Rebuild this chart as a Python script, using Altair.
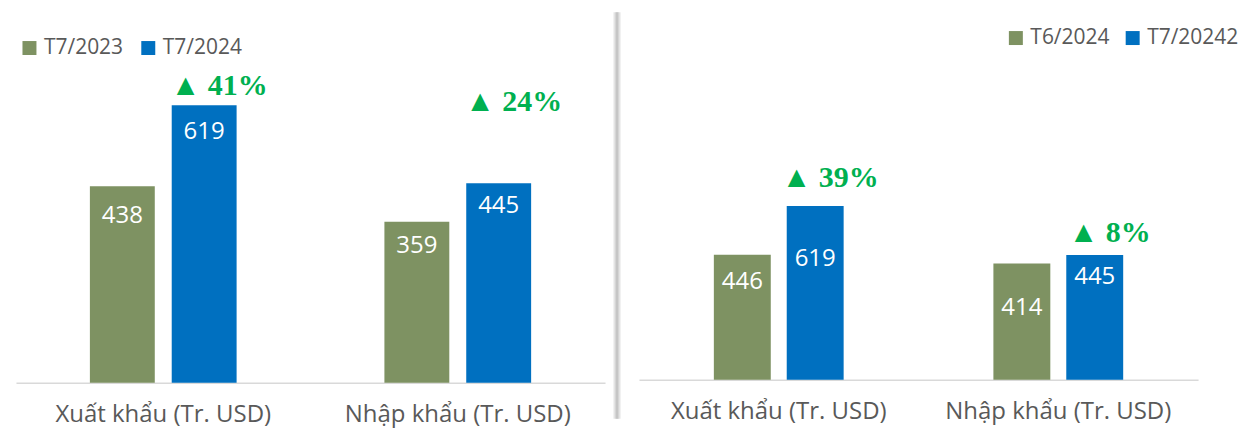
import altair as alt
import pandas as pd

# ---------------- data ----------------
CATEGORIES = ["Xuất khẩu (Tr. USD)", "Nhập khẩu (Tr. USD)"]

LEFT_SERIES = ["T7/2023", "T7/2024"]
LEFT_PREV = [438, 359]
LEFT_CURR = [619, 445]
LEFT_PCT = ["▲ 41%", "▲ 24%"]

RIGHT_SERIES = ["T6/2024", "T7/20242"]
RIGHT_PREV = [446, 414]
RIGHT_CURR = [619, 445]
RIGHT_PCT = ["▲ 39%", "▲ 8%"]

# ---------------- styling ----------------
GREEN = "#7E9262"
BLUE = "#0070C0"
PCT_GREEN = "#00B050"
GREY_TEXT = "#595959"
FONT = "Open Sans"

# per-label pixel offsets (label centre below bar top / above bar top)
LEFT_VALUE_DROP = [30, 27, 24, 23]
RIGHT_VALUE_DROP = [27, 53, 44, 22]
LEFT_PCT_RISE = [19, 81]
RIGHT_PCT_RISE = [28, 22]


def panel(series, prev, curr, pct, value_drop, pct_rise, width, height, ymax,
          x_pad, off_inner, legend_x, legend_y, col_pad, separator=False):
    rows = []
    for i, c in enumerate(CATEGORIES):
        rows.append({"cat": c, "series": series[0], "value": prev[i]})
        rows.append({"cat": c, "series": series[1], "value": curr[i]})
    df = pd.DataFrame(rows)
    per_px = ymax / height
    df["label_y"] = [v - d * per_px for v, d in zip(df["value"], value_drop)]

    pdf = pd.DataFrame({
        "cat": CATEGORIES,
        "series": [series[1]] * 2,
        "pct": pct,
        "pct_y": [v + r * per_px for v, r in zip(curr, pct_rise)],
    })

    x = alt.X("cat:N", sort=CATEGORIES,
              scale=alt.Scale(paddingInner=x_pad, paddingOuter=x_pad / 2),
              axis=alt.Axis(title=None, labelAngle=0, ticks=False, tickSize=0,
                            labelFontSize=24, labelFont=FONT, labelColor=GREY_TEXT,
                            labelPadding=20, labelLimit=0,
                            domainColor="#D9D9D9", domainWidth=1.5, grid=False))
    xo = alt.XOffset("series:N", sort=series,
                     scale=alt.Scale(domain=series, paddingInner=off_inner,
                                     paddingOuter=0.5))
    yscale = alt.Scale(domain=[0, ymax], nice=False, zero=True)

    bars = alt.Chart(df).mark_bar().encode(
        x=x, xOffset=xo,
        y=alt.Y("value:Q", scale=yscale, axis=None),
        color=alt.Color("series:N", sort=series,
                        scale=alt.Scale(domain=series, range=[GREEN, BLUE]),
                        legend=alt.Legend(title=None, orient="none",
                                          legendX=legend_x, legendY=legend_y,
                                          direction="horizontal",
                                          symbolType="square", symbolSize=196,
                                          symbolStrokeWidth=0, symbolOpacity=1,
                                          labelFontSize=21, labelFont=FONT,
                                          labelColor=GREY_TEXT, labelOffset=4,
                                          columnPadding=col_pad, padding=0)),
    )
    values = alt.Chart(df).mark_text(color="white", fontSize=24, font=FONT,
                                     baseline="middle").encode(
        x=x, xOffset=xo,
        y=alt.Y("label_y:Q", scale=yscale, axis=None),
        text=alt.Text("value:Q"),
    )
    pcts = alt.Chart(pdf).mark_text(color=PCT_GREEN, fontSize=30,
                                    font="Liberation Serif", fontWeight="bold",
                                    baseline="middle", dx=15).encode(
        x=x, xOffset=xo,
        y=alt.Y("pct_y:Q", scale=yscale, axis=None),
        text="pct:N",
    )
    layers = [bars, values, pcts]
    if separator:
        one = pd.DataFrame({"k": [0]})
        outer = alt.Chart(one).mark_rule(color="#E4E4E4", strokeWidth=7).encode(
            x=alt.value(-22), y=alt.value(4), y2=alt.value(411))
        inner = alt.Chart(one).mark_rule(color="#C6C6C6", strokeWidth=3).encode(
            x=alt.value(-22), y=alt.value(4), y2=alt.value(411))
        layers = [outer, inner] + layers
    return alt.layer(*layers).properties(width=width, height=height)


left = panel(LEFT_SERIES, LEFT_PREV, LEFT_CURR, LEFT_PCT, LEFT_VALUE_DROP,
             LEFT_PCT_RISE, width=590, height=375, ymax=835,
             x_pad=0.224, off_inner=0.207, legend_x=3, legend_y=29, col_pad=14)
right = panel(RIGHT_SERIES, RIGHT_PREV, RIGHT_CURR, RIGHT_PCT, RIGHT_VALUE_DROP,
              RIGHT_PCT_RISE, width=560, height=372, ymax=1324,
              x_pad=0.275, off_inner=0.219, legend_x=367, legend_y=19, col_pad=12,
              separator=True)

chart = alt.hconcat(left, right, spacing=34, bounds="flush").resolve_scale(
    color="independent", x="independent", y="independent", xOffset="independent"
).properties(
    padding={"left": 8, "top": 0, "right": 0, "bottom": 4}
).configure_view(strokeWidth=0)

chart.save("out.html", embed_options={"renderer": "svg", "actions": False})
